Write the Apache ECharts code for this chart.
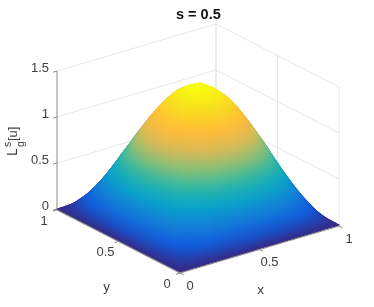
<!DOCTYPE html>
<html>
<head>
<meta charset="utf-8">
<style>html,body{margin:0;padding:0;background:#fff}#c{width:374px;height:307px}</style>
<script src="https://cdn.jsdelivr.net/npm/echarts@6/dist/echarts.min.js"></script>
</head>
<body>
<div id="c"></div>
<script>
var xGrid = [0,.05,.1,.15,.2,.25,.3,.35,.4,.45,.5,.55,.6,.65,.7,.75,.8,.85,.9,.95,1];
var yGrid = [0,.05,.1,.15,.2,.25,.3,.35,.4,.45,.5,.55,.6,.65,.7,.75,.8,.85,.9,.95,1];
var surfaceZ = [
[0,0,0,0,0,0,0,0,0,0,0,0,0,0,0,0,0,0,0,0,0],
[0,.043,.080,.114,.148,.176,.201,.221,.236,.246,.249,.246,.236,.221,.201,.176,.148,.114,.080,.043,0],
[0,.080,.145,.209,.270,.323,.368,.404,.432,.450,.454,.450,.432,.404,.368,.323,.270,.209,.145,.080,0],
[0,.114,.209,.300,.389,.464,.529,.581,.621,.647,.653,.647,.621,.581,.529,.464,.389,.300,.209,.114,0],
[0,.148,.270,.389,.503,.600,.684,.752,.803,.836,.845,.836,.803,.752,.684,.600,.503,.389,.270,.148,0],
[0,.176,.323,.464,.600,.716,.816,.897,.958,.998,1.008,.998,.958,.897,.816,.716,.600,.464,.323,.176,0],
[0,.201,.368,.529,.684,.816,.932,1.024,1.093,1.139,1.150,1.139,1.093,1.024,.932,.816,.684,.529,.368,.201,0],
[0,.221,.404,.581,.752,.897,1.024,1.125,1.201,1.251,1.264,1.251,1.201,1.125,1.024,.897,.752,.581,.404,.221,0],
[0,.236,.432,.621,.803,.958,1.093,1.201,1.282,1.336,1.349,1.336,1.282,1.201,1.093,.958,.803,.621,.432,.236,0],
[0,.246,.450,.647,.836,.998,1.139,1.251,1.336,1.392,1.406,1.392,1.336,1.251,1.139,.998,.836,.647,.450,.246,0],
[0,.249,.454,.653,.845,1.008,1.150,1.264,1.349,1.406,1.420,1.406,1.349,1.264,1.150,1.008,.845,.653,.454,.249,0],
[0,.246,.450,.647,.836,.998,1.139,1.251,1.336,1.392,1.406,1.392,1.336,1.251,1.139,.998,.836,.647,.450,.246,0],
[0,.236,.432,.621,.803,.958,1.093,1.201,1.282,1.336,1.349,1.336,1.282,1.201,1.093,.958,.803,.621,.432,.236,0],
[0,.221,.404,.581,.752,.897,1.024,1.125,1.201,1.251,1.264,1.251,1.201,1.125,1.024,.897,.752,.581,.404,.221,0],
[0,.201,.368,.529,.684,.816,.932,1.024,1.093,1.139,1.150,1.139,1.093,1.024,.932,.816,.684,.529,.368,.201,0],
[0,.176,.323,.464,.600,.716,.816,.897,.958,.998,1.008,.998,.958,.897,.816,.716,.600,.464,.323,.176,0],
[0,.148,.270,.389,.503,.600,.684,.752,.803,.836,.845,.836,.803,.752,.684,.600,.503,.389,.270,.148,0],
[0,.114,.209,.300,.389,.464,.529,.581,.621,.647,.653,.647,.621,.581,.529,.464,.389,.300,.209,.114,0],
[0,.080,.145,.209,.270,.323,.368,.404,.432,.450,.454,.450,.432,.404,.368,.323,.270,.209,.145,.080,0],
[0,.043,.080,.114,.148,.176,.201,.221,.236,.246,.249,.246,.236,.221,.201,.176,.148,.114,.080,.043,0],
[0,0,0,0,0,0,0,0,0,0,0,0,0,0,0,0,0,0,0,0,0]
];
var xTicks = [0,.5,1], xTickLabels = ['0','0.5','1'];
var yTicks = [0,.5,1], yTickLabels = ['0','0.5','1'];
var zTicks = [0,.5,1,1.5], zTickLabels = ['0','0.5','1','1.5'];
var titleText = 's = 0.5';

var parula = [[53,42,135],[15,92,221],[20,128,214],[6,164,202],[46,183,164],[135,191,119],[218,186,86],[255,188,58],[248,218,33],[249,251,14]];
var LABEL = '#404040', FONT = '"Liberation Sans", Arial, sans-serif';
var SUB = 2; // shading steps inside each mesh cell

// oblique view of the axes box, in pixel space of the hidden 2D axes
function project(x, y, z) {
  return [180 + 159 * x - 123 * y, 272 - 47 * x - 63 * y - 92 * z];
}
function colorAt(t) {
  t = Math.max(0, Math.min(1, t)) * (parula.length - 1);
  var i = Math.min(parula.length - 2, Math.floor(t)), f = t - i, a = parula[i], b = parula[i + 1];
  return 'rgb(' + [0,1,2].map(function (k) { return Math.round(a[k] + (b[k] - a[k]) * f); }).join(',') + ')';
}
var zMax = 1.42;

function triFill(P, v) {
  var ax = P[1][0]-P[0][0], ay = P[1][1]-P[0][1], bx = P[2][0]-P[0][0], by = P[2][1]-P[0][1];
  var dv1 = v[1]-v[0], dv2 = v[2]-v[0], det = ax*by - ay*bx;
  var lo = 0, hi = 0;
  for (var k = 1; k < 3; k++) { if (v[k] < v[lo]) lo = k; if (v[k] > v[hi]) hi = k; }
  if (Math.abs(det) < 1e-6 || v[hi] - v[lo] < 1e-6) return colorAt((v[0]+v[1]+v[2]) / 3 / zMax);
  var gx = (dv1*by - dv2*ay) / det, gy = (dv2*ax - dv1*bx) / det, g2 = gx*gx + gy*gy;
  var d = (v[hi] - v[lo]) / g2, sx = P[lo][0], sy = P[lo][1];
  return new echarts.graphic.LinearGradient(sx, sy, sx + gx*d, sy + gy*d, [
    {offset: 0, color: colorAt(v[lo] / zMax)}, {offset: 1, color: colorAt(v[hi] / zMax)}
  ], true);
}

// shaded mesh patches, far corner first
var patches = [];
for (var s = (xGrid.length - 1) * 2 - 2; s >= 0; s--) {
  for (var i = xGrid.length - 2; i >= 0; i--) {
    var j = s - i;
    if (j < 0 || j > yGrid.length - 2) continue;
    for (var a = SUB - 1; a >= 0; a--) for (var b = SUB - 1; b >= 0; b--) {
      patches.push([i, j, a, b, 1]); patches.push([i, j, a, b, 0]);
    }
  }
}
function surfaceAt(i, j, u, v) {
  return (1-u)*(1-v)*surfaceZ[i][j] + u*(1-v)*surfaceZ[i+1][j] + (1-u)*v*surfaceZ[i][j+1] + u*v*surfaceZ[i+1][j+1];
}
function renderPatch(params, api) {
  var i = api.value(0), j = api.value(1), a = api.value(2), b = api.value(3), up = api.value(4);
  var corners = up ? [[a+1,b],[a,b+1],[a+1,b+1]] : [[a,b],[a+1,b],[a,b+1]];
  var pts = [], vals = [];
  corners.forEach(function (c) {
    var u = c[0]/SUB, v = c[1]/SUB, z = surfaceAt(i, j, u, v);
    vals.push(z);
    pts.push(api.coord(project(xGrid[i] + (xGrid[i+1]-xGrid[i])*u, yGrid[j] + (yGrid[j+1]-yGrid[j])*v, z)));
  });
  var fill = triFill(pts, vals);
  return {type: 'polygon', shape: {points: pts}, style: {fill: fill, stroke: fill, lineWidth: 1.2, lineJoin: 'round'}};
}

function seg(a, b, color, w, dy) { return {a: a, b: b, color: color, w: w, dy: dy || 0}; }
var wallColor = '#e8e8e8', axisColor = '#8a8a8a';
var wallSegs = [];
zTicks.forEach(function (z) {
  if (z > 0) wallSegs.push(seg([0,1,z],[1,1,z],wallColor,1));
  wallSegs.push(seg([1,1,z],[1,0,z],wallColor,1));
});
wallSegs.push(seg([1,1,0],[1,1,1.5],wallColor,1.6));
wallSegs.push(seg([1,.5,0],[1,.5,1.5],wallColor,1));
wallSegs.push(seg([1,0,0],[1,0,1.5],wallColor,1));
var axisSegs = [
  seg([0,1,0],[0,1,1.5],axisColor,1),
  seg([0,1,0],[0,0,0],axisColor,1.1,1),
  seg([0,0,0],[1,0,0],axisColor,1.1,1)
];
zTicks.forEach(function (z) { axisSegs.push(seg([0,1,z],[-.025,1,z],axisColor,1)); });
xTicks.forEach(function (x) { axisSegs.push(seg([x,0,0],[x,-.03,0],axisColor,1,1)); });
yTicks.forEach(function (y) { axisSegs.push(seg([0,y,0],[-.025,y,0],axisColor,1,1)); });

function renderSeg(list) {
  return function (params, api) {
    var d = list[api.value(0)];
    var a = api.coord(project(d.a[0], d.a[1], d.a[2])), b = api.coord(project(d.b[0], d.b[1], d.b[2]));
    return {type: 'line', shape: {x1: a[0], y1: a[1] + d.dy, x2: b[0], y2: b[1] + d.dy}, style: {stroke: d.color, lineWidth: d.w}};
  };
}

// text: anchored on the axes with a pixel offset
var texts = [];
function addText(t, w, dx, dy, size, rot) { texts.push({t: t, w: w, dx: dx, dy: dy, size: size, rot: rot || 0}); }
zTicks.forEach(function (z, k) { addText(zTickLabels[k], [0,1,z], -8, -3, 13); texts[texts.length-1].align = 'right'; });
yTicks.forEach(function (y, k) { addText(yTickLabels[k], [0,y,0], -13, 12, 13); });
xTicks.forEach(function (x, k) { addText(xTickLabels[k], [x,0,0], 10, 14, 13); });
addText('y', [0,.5,0], -12, 47, 13.5);
addText('x', [.5,0,0], 1, 42, 13.5);

function renderText(params, api) {
  var d = texts[api.value(0)];
  var p = api.coord(project(d.w[0], d.w[1], d.w[2]));
  return {type: 'text', x: p[0] + d.dx, y: p[1] + d.dy, rotation: d.rot,
    style: {text: d.t, fontSize: d.size, fontFamily: FONT, fill: LABEL, align: d.align || 'center', verticalAlign: 'middle'}};
}
// z axis name, rotated
var zName = [
  {t: 'L', x: 13, y: 156, size: 14},
  {t: 's', x: 8, y: 147, size: 10.5},
  {t: 'g', x: 21, y: 147, size: 10.5},
  {t: '[u]', x: 13, y: 141, size: 13}
];
function renderZName(params, api) {
  var d = zName[api.value(0)];
  var p = api.coord([d.x, d.y]);
  return {type: 'text', x: p[0], y: p[1], rotation: Math.PI / 2,
    style: {text: d.t, fontSize: d.size, fontFamily: FONT, fill: LABEL, align: 'left', verticalAlign: 'middle'}};
}
function indexData(list) { return list.map(function (_, k) { return [k]; }); }
function custom(data, render, z) {
  return {type: 'custom', coordinateSystem: 'cartesian2d', data: data, renderItem: render, silent: true, animation: false, z: z, clip: false, progressive: 0};
}

var chart = echarts.init(document.getElementById('c'), null, {renderer: 'canvas', width: 374, height: 307});
chart.setOption({
  animation: false,
  backgroundColor: '#fff',
  title: {text: titleText, left: 171, top: 2, textStyle: {fontFamily: FONT, fontSize: 14.5, fontWeight: 'bold', color: '#111'}},
  grid: {left: 0, right: 0, top: 0, bottom: 0},
  xAxis: {type: 'value', min: 0, max: 374, show: false},
  yAxis: {type: 'value', min: 0, max: 307, inverse: true, show: false},
  tooltip: {show: false},
  series: [
    custom(indexData(wallSegs), renderSeg(wallSegs), 1),
    custom(patches, renderPatch, 3),
    custom(indexData(axisSegs), renderSeg(axisSegs), 4),
    custom(indexData(texts), renderText, 5),
    custom(indexData(zName), renderZName, 5)
  ]
});
</script>
</body>
</html>
